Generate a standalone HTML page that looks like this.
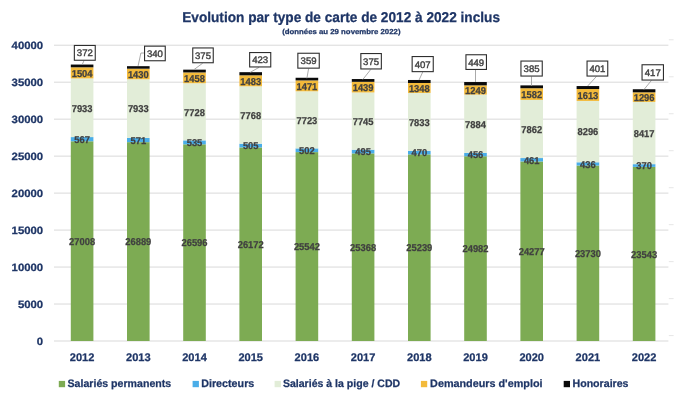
<!DOCTYPE html><html><head><meta charset="utf-8"><title>Evolution par type de carte</title><style>html,body{margin:0;padding:0;background:#fff;}svg{display:block;will-change:transform;}text{font-family:"Liberation Sans",sans-serif;text-rendering:geometricPrecision;font-weight:bold;lengthAdjust:spacingAndGlyphs}.n{fill:#1E3566;stroke:#1E3566;stroke-width:.25px}.g{fill:#404040;stroke:#404040;stroke-width:.25px;text-anchor:middle;font-size:10px}.k{fill:#404040;stroke:#404040;stroke-width:.4px;text-anchor:middle;font-size:9.5px;font-weight:normal}.e{text-anchor:end;font-size:10.6px}.m{text-anchor:middle;font-size:11px}.gl{fill:#D9D9D9}.tk{fill:#E6E6E6}.ld{fill:none;stroke:#A0A0A0;stroke-width:.9px}.bx{fill:#fff;stroke:#2E2E2E;stroke-width:1.1px}</style></head><body>
<svg width="689" height="405" viewBox="0 0 689 405">
<rect x="0" y="0" width="689" height="405" fill="#fff"/>
<rect class="gl" x="54" y="340.5" width="614.4" height="1"/>
<rect class="tk" x="668.8" y="335.1" width="4.8" height="1"/>
<rect class="gl" x="54" y="303.52" width="614.4" height="1"/>
<rect class="tk" x="668.8" y="298.12" width="4.8" height="1"/>
<rect class="gl" x="54" y="266.55" width="614.4" height="1"/>
<rect class="tk" x="668.8" y="261.15" width="4.8" height="1"/>
<rect class="gl" x="54" y="229.57" width="614.4" height="1"/>
<rect class="tk" x="668.8" y="224.17" width="4.8" height="1"/>
<rect class="gl" x="54" y="192.6" width="614.4" height="1"/>
<rect class="tk" x="668.8" y="187.2" width="4.8" height="1"/>
<rect class="gl" x="54" y="155.62" width="614.4" height="1"/>
<rect class="tk" x="668.8" y="150.22" width="4.8" height="1"/>
<rect class="gl" x="54" y="118.65" width="614.4" height="1"/>
<rect class="tk" x="668.8" y="113.25" width="4.8" height="1"/>
<rect class="gl" x="54" y="81.68" width="614.4" height="1"/>
<rect class="tk" x="668.8" y="76.28" width="4.8" height="1"/>
<rect class="gl" x="54" y="44.7" width="614.4" height="1"/>
<rect class="tk" x="668.8" y="39.3" width="4.8" height="1"/>
<text x="182.2" y="22" font-size="14.2" font-weight="bold" fill="#1E3566" stroke="#1E3566" stroke-width="0.25" text-anchor="start" textLength="317.8" lengthAdjust="spacingAndGlyphs">Evolution par type de carte de 2012 à 2022 inclus</text>
<text x="282.2" y="34" font-size="7.2" font-weight="bold" fill="#1E3566" stroke="#1E3566" stroke-width="0.25" text-anchor="start" textLength="118.3" lengthAdjust="spacingAndGlyphs">(données au 29 novembre 2022)</text>
<text class="n e" x="43.2" y="345" textLength="6.32" lengthAdjust="spacingAndGlyphs">0</text>
<text class="n e" x="43.2" y="308" textLength="25.28" lengthAdjust="spacingAndGlyphs">5000</text>
<text class="n e" x="43.2" y="271" textLength="31.6" lengthAdjust="spacingAndGlyphs">10000</text>
<text class="n e" x="43.2" y="234" textLength="31.6" lengthAdjust="spacingAndGlyphs">15000</text>
<text class="n e" x="43.2" y="197" textLength="31.6" lengthAdjust="spacingAndGlyphs">20000</text>
<text class="n e" x="43.2" y="160" textLength="31.6" lengthAdjust="spacingAndGlyphs">25000</text>
<text class="n e" x="43.2" y="123" textLength="31.6" lengthAdjust="spacingAndGlyphs">30000</text>
<text class="n e" x="43.2" y="86" textLength="31.6" lengthAdjust="spacingAndGlyphs">35000</text>
<text class="n e" x="43.2" y="49" textLength="31.6" lengthAdjust="spacingAndGlyphs">40000</text>
<rect x="70.8" y="141.28" width="22.6" height="199.72" fill="#7DAB53"/>
<rect x="70.8" y="137.08" width="22.6" height="4.19" fill="#4AADE8"/>
<rect x="70.8" y="78.42" width="22.6" height="58.66" fill="#E2EDD8"/>
<rect x="70.8" y="67.3" width="22.6" height="11.12" fill="#F3BA3A"/>
<rect x="70.8" y="64.55" width="22.6" height="2.75" fill="#0A0A0A"/>
<text class="g" x="82.1" y="245" textLength="26" lengthAdjust="spacingAndGlyphs">27008</text>
<text class="g" x="82.1" y="143" textLength="15.6" lengthAdjust="spacingAndGlyphs">567</text>
<text class="g" x="82.1" y="112" textLength="20.8" lengthAdjust="spacingAndGlyphs">7933</text>
<text class="g" x="82.1" y="77" textLength="20.8" lengthAdjust="spacingAndGlyphs">1504</text>
<text class="n m" x="82.1" y="361" textLength="24.6" lengthAdjust="spacingAndGlyphs">2012</text>
<polyline class="ld" points="84,60.7 82.2,64.6"/>
<rect class="bx" x="74.35" y="45.45" width="20.9" height="14.8"/>
<text class="k" x="84.8" y="56" textLength="16" lengthAdjust="spacingAndGlyphs">372</text>
<rect x="127" y="142.16" width="22.6" height="198.84" fill="#7DAB53"/>
<rect x="127" y="137.93" width="22.6" height="4.22" fill="#4AADE8"/>
<rect x="127" y="79.27" width="22.6" height="58.66" fill="#E2EDD8"/>
<rect x="127" y="68.69" width="22.6" height="10.57" fill="#F3BA3A"/>
<rect x="127" y="66.18" width="22.6" height="2.51" fill="#0A0A0A"/>
<text class="g" x="138.3" y="245" textLength="26" lengthAdjust="spacingAndGlyphs">26889</text>
<text class="g" x="138.3" y="144" textLength="15.6" lengthAdjust="spacingAndGlyphs">571</text>
<text class="g" x="138.3" y="112" textLength="20.8" lengthAdjust="spacingAndGlyphs">7933</text>
<text class="g" x="138.3" y="78" textLength="20.8" lengthAdjust="spacingAndGlyphs">1430</text>
<text class="n m" x="138.3" y="361" textLength="24.6" lengthAdjust="spacingAndGlyphs">2013</text>
<polyline class="ld" points="138.1,65.9 140.9,53 144,53"/>
<rect class="bx" x="144.55" y="46.15" width="20.7" height="14.6"/>
<text class="k" x="154.9" y="57" textLength="16" lengthAdjust="spacingAndGlyphs">340</text>
<rect x="183.2" y="144.32" width="22.6" height="196.68" fill="#7DAB53"/>
<rect x="183.2" y="140.37" width="22.6" height="3.96" fill="#4AADE8"/>
<rect x="183.2" y="83.22" width="22.6" height="57.15" fill="#E2EDD8"/>
<rect x="183.2" y="72.44" width="22.6" height="10.78" fill="#F3BA3A"/>
<rect x="183.2" y="69.66" width="22.6" height="2.77" fill="#0A0A0A"/>
<text class="g" x="194.5" y="246" textLength="26" lengthAdjust="spacingAndGlyphs">26596</text>
<text class="g" x="194.5" y="146" textLength="15.6" lengthAdjust="spacingAndGlyphs">535</text>
<text class="g" x="194.5" y="116" textLength="20.8" lengthAdjust="spacingAndGlyphs">7728</text>
<text class="g" x="194.5" y="82" textLength="20.8" lengthAdjust="spacingAndGlyphs">1458</text>
<text class="n m" x="194.5" y="361" textLength="24.6" lengthAdjust="spacingAndGlyphs">2014</text>
<polyline class="ld" points="202.7,63.2 194,69.6"/>
<rect class="bx" x="192.75" y="47.95" width="20.5" height="14.8"/>
<text class="k" x="203" y="59" textLength="16" lengthAdjust="spacingAndGlyphs">375</text>
<rect x="239.4" y="147.46" width="22.6" height="193.54" fill="#7DAB53"/>
<rect x="239.4" y="143.72" width="22.6" height="3.73" fill="#4AADE8"/>
<rect x="239.4" y="86.28" width="22.6" height="57.44" fill="#E2EDD8"/>
<rect x="239.4" y="75.31" width="22.6" height="10.97" fill="#F3BA3A"/>
<rect x="239.4" y="72.18" width="22.6" height="3.13" fill="#0A0A0A"/>
<text class="g" x="250.7" y="248" textLength="26" lengthAdjust="spacingAndGlyphs">26172</text>
<text class="g" x="250.7" y="149" textLength="15.6" lengthAdjust="spacingAndGlyphs">505</text>
<text class="g" x="250.7" y="119" textLength="20.8" lengthAdjust="spacingAndGlyphs">7768</text>
<text class="g" x="250.7" y="85" textLength="20.8" lengthAdjust="spacingAndGlyphs">1483</text>
<text class="n m" x="250.7" y="361" textLength="24.6" lengthAdjust="spacingAndGlyphs">2015</text>
<polyline class="ld" points="259,67.4 250.3,72.3"/>
<rect class="bx" x="249.65" y="52.55" width="21.1" height="14.4"/>
<text class="k" x="260.2" y="63" textLength="16" lengthAdjust="spacingAndGlyphs">423</text>
<rect x="295.6" y="152.12" width="22.6" height="188.88" fill="#7DAB53"/>
<rect x="295.6" y="148.4" width="22.6" height="3.71" fill="#4AADE8"/>
<rect x="295.6" y="91.29" width="22.6" height="57.11" fill="#E2EDD8"/>
<rect x="295.6" y="80.41" width="22.6" height="10.88" fill="#F3BA3A"/>
<rect x="295.6" y="77.76" width="22.6" height="2.65" fill="#0A0A0A"/>
<text class="g" x="306.9" y="250" textLength="26" lengthAdjust="spacingAndGlyphs">25542</text>
<text class="g" x="306.9" y="154" textLength="15.6" lengthAdjust="spacingAndGlyphs">502</text>
<text class="g" x="306.9" y="124" textLength="20.8" lengthAdjust="spacingAndGlyphs">7723</text>
<text class="g" x="306.9" y="90" textLength="20.8" lengthAdjust="spacingAndGlyphs">1471</text>
<text class="n m" x="306.9" y="361" textLength="24.6" lengthAdjust="spacingAndGlyphs">2016</text>
<polyline class="ld" points="308.6,68.6 306.9,78.3"/>
<rect class="bx" x="297.85" y="53.25" width="21.4" height="14.9"/>
<text class="k" x="308.55" y="64" textLength="16" lengthAdjust="spacingAndGlyphs">359</text>
<rect x="351.8" y="153.4" width="22.6" height="187.6" fill="#7DAB53"/>
<rect x="351.8" y="149.74" width="22.6" height="3.66" fill="#4AADE8"/>
<rect x="351.8" y="92.47" width="22.6" height="57.27" fill="#E2EDD8"/>
<rect x="351.8" y="81.83" width="22.6" height="10.64" fill="#F3BA3A"/>
<rect x="351.8" y="79.05" width="22.6" height="2.77" fill="#0A0A0A"/>
<text class="g" x="363.1" y="251" textLength="26" lengthAdjust="spacingAndGlyphs">25368</text>
<text class="g" x="363.1" y="155" textLength="15.6" lengthAdjust="spacingAndGlyphs">495</text>
<text class="g" x="363.1" y="125" textLength="20.8" lengthAdjust="spacingAndGlyphs">7745</text>
<text class="g" x="363.1" y="91" textLength="20.8" lengthAdjust="spacingAndGlyphs">1439</text>
<text class="n m" x="363.1" y="361" textLength="24.6" lengthAdjust="spacingAndGlyphs">2017</text>
<polyline class="ld" points="370.8,69.4 362.8,79.5"/>
<rect class="bx" x="360.85" y="53.55" width="20.5" height="15.4"/>
<text class="k" x="371.1" y="65" textLength="16" lengthAdjust="spacingAndGlyphs">375</text>
<rect x="408" y="154.36" width="22.6" height="186.64" fill="#7DAB53"/>
<rect x="408" y="150.88" width="22.6" height="3.48" fill="#4AADE8"/>
<rect x="408" y="92.96" width="22.6" height="57.93" fill="#E2EDD8"/>
<rect x="408" y="82.99" width="22.6" height="9.97" fill="#F3BA3A"/>
<rect x="408" y="79.98" width="22.6" height="3.01" fill="#0A0A0A"/>
<text class="g" x="419.3" y="251" textLength="26" lengthAdjust="spacingAndGlyphs">25239</text>
<text class="g" x="419.3" y="156" textLength="15.6" lengthAdjust="spacingAndGlyphs">470</text>
<text class="g" x="419.3" y="126" textLength="20.8" lengthAdjust="spacingAndGlyphs">7833</text>
<text class="g" x="419.3" y="92" textLength="20.8" lengthAdjust="spacingAndGlyphs">1348</text>
<text class="n m" x="419.3" y="361" textLength="24.6" lengthAdjust="spacingAndGlyphs">2018</text>
<polyline class="ld" points="422.7,72.1 419,80.1"/>
<rect class="bx" x="412.15" y="56.55" width="21.1" height="15.1"/>
<text class="k" x="422.7" y="68" textLength="16" lengthAdjust="spacingAndGlyphs">407</text>
<rect x="464.2" y="156.26" width="22.6" height="184.74" fill="#7DAB53"/>
<rect x="464.2" y="152.89" width="22.6" height="3.37" fill="#4AADE8"/>
<rect x="464.2" y="94.58" width="22.6" height="58.3" fill="#E2EDD8"/>
<rect x="464.2" y="85.35" width="22.6" height="9.24" fill="#F3BA3A"/>
<rect x="464.2" y="82.03" width="22.6" height="3.32" fill="#0A0A0A"/>
<text class="g" x="475.5" y="252" textLength="26" lengthAdjust="spacingAndGlyphs">24982</text>
<text class="g" x="475.5" y="158" textLength="15.6" lengthAdjust="spacingAndGlyphs">456</text>
<text class="g" x="475.5" y="128" textLength="20.8" lengthAdjust="spacingAndGlyphs">7884</text>
<text class="g" x="475.5" y="94" textLength="20.8" lengthAdjust="spacingAndGlyphs">1249</text>
<text class="n m" x="475.5" y="361" textLength="24.6" lengthAdjust="spacingAndGlyphs">2019</text>
<polyline class="ld" points="475.5,69.9 475.5,82"/>
<rect class="bx" x="465.95" y="54.75" width="20.5" height="14.7"/>
<text class="k" x="476.2" y="66" textLength="16" lengthAdjust="spacingAndGlyphs">449</text>
<rect x="520.4" y="161.47" width="22.6" height="179.53" fill="#7DAB53"/>
<rect x="520.4" y="158.06" width="22.6" height="3.41" fill="#4AADE8"/>
<rect x="520.4" y="99.92" width="22.6" height="58.14" fill="#E2EDD8"/>
<rect x="520.4" y="88.22" width="22.6" height="11.7" fill="#F3BA3A"/>
<rect x="520.4" y="85.38" width="22.6" height="2.85" fill="#0A0A0A"/>
<text class="g" x="531.7" y="255" textLength="26" lengthAdjust="spacingAndGlyphs">24277</text>
<text class="g" x="531.7" y="164" textLength="15.6" lengthAdjust="spacingAndGlyphs">461</text>
<text class="g" x="531.7" y="133" textLength="20.8" lengthAdjust="spacingAndGlyphs">7862</text>
<text class="g" x="531.7" y="98" textLength="20.8" lengthAdjust="spacingAndGlyphs">1582</text>
<text class="n m" x="531.7" y="361" textLength="24.6" lengthAdjust="spacingAndGlyphs">2020</text>
<polyline class="ld" points="531.5,76.5 531.5,85.8"/>
<rect class="bx" x="520.95" y="61.05" width="21.3" height="15"/>
<text class="k" x="531.6" y="72" textLength="16" lengthAdjust="spacingAndGlyphs">385</text>
<rect x="576.6" y="165.52" width="22.6" height="175.48" fill="#7DAB53"/>
<rect x="576.6" y="162.29" width="22.6" height="3.22" fill="#4AADE8"/>
<rect x="576.6" y="100.94" width="22.6" height="61.35" fill="#E2EDD8"/>
<rect x="576.6" y="89.02" width="22.6" height="11.93" fill="#F3BA3A"/>
<rect x="576.6" y="86.05" width="22.6" height="2.97" fill="#0A0A0A"/>
<text class="g" x="587.9" y="257" textLength="26" lengthAdjust="spacingAndGlyphs">23730</text>
<text class="g" x="587.9" y="168" textLength="15.6" lengthAdjust="spacingAndGlyphs">436</text>
<text class="g" x="587.9" y="135" textLength="20.8" lengthAdjust="spacingAndGlyphs">8296</text>
<text class="g" x="587.9" y="99" textLength="20.8" lengthAdjust="spacingAndGlyphs">1613</text>
<text class="n m" x="587.9" y="361" textLength="24.6" lengthAdjust="spacingAndGlyphs">2021</text>
<polyline class="ld" points="596.4,76.5 587.7,86"/>
<rect class="bx" x="587.05" y="61.05" width="20.7" height="15"/>
<text class="k" x="597.4" y="72" textLength="16" lengthAdjust="spacingAndGlyphs">401</text>
<rect x="632.8" y="166.9" width="22.6" height="174.1" fill="#7DAB53"/>
<rect x="632.8" y="164.16" width="22.6" height="2.74" fill="#4AADE8"/>
<rect x="632.8" y="101.92" width="22.6" height="62.24" fill="#E2EDD8"/>
<rect x="632.8" y="92.34" width="22.6" height="9.58" fill="#F3BA3A"/>
<rect x="632.8" y="89.25" width="22.6" height="3.08" fill="#0A0A0A"/>
<text class="g" x="644.1" y="258" textLength="26" lengthAdjust="spacingAndGlyphs">23543</text>
<text class="g" x="644.1" y="169" textLength="15.6" lengthAdjust="spacingAndGlyphs">370</text>
<text class="g" x="644.1" y="137" textLength="20.8" lengthAdjust="spacingAndGlyphs">8417</text>
<text class="g" x="644.1" y="101" textLength="20.8" lengthAdjust="spacingAndGlyphs">1296</text>
<text class="n m" x="644.1" y="361" textLength="24.6" lengthAdjust="spacingAndGlyphs">2022</text>
<polyline class="ld" points="651.4,80.5 644,89.5"/>
<rect class="bx" x="642.05" y="64.75" width="21.4" height="15.3"/>
<text class="k" x="652.75" y="76" textLength="16" lengthAdjust="spacingAndGlyphs">417</text>
<rect x="58.80" y="380.9" width="6.3" height="6.3" fill="#7DAB53"/>
<text x="67.5" y="387" font-size="10.8" font-weight="bold" fill="#1E3566" stroke="#1E3566" stroke-width="0.25" text-anchor="start" textLength="103.7" lengthAdjust="spacingAndGlyphs">Salariés permanents</text>
<rect x="192.60" y="380.9" width="6.3" height="6.3" fill="#4AADE8"/>
<text x="201.2" y="387" font-size="10.8" font-weight="bold" fill="#1E3566" stroke="#1E3566" stroke-width="0.25" text-anchor="start" textLength="53.1" lengthAdjust="spacingAndGlyphs">Directeurs</text>
<rect x="274.60" y="380.9" width="6.3" height="6.3" fill="#E2EDD8"/>
<text x="282.9" y="387" font-size="10.8" font-weight="bold" fill="#1E3566" stroke="#1E3566" stroke-width="0.25" text-anchor="start" textLength="117.3" lengthAdjust="spacingAndGlyphs">Salariés à la pige / CDD</text>
<rect x="420.90" y="380.9" width="6.3" height="6.3" fill="#F3BA3A"/>
<text x="430.1" y="387" font-size="10.8" font-weight="bold" fill="#1E3566" stroke="#1E3566" stroke-width="0.25" text-anchor="start" textLength="112.4" lengthAdjust="spacingAndGlyphs">Demandeurs d&#39;emploi</text>
<rect x="563.70" y="380.9" width="6.3" height="6.3" fill="#0A0A0A"/>
<text x="572.5" y="387" font-size="10.8" font-weight="bold" fill="#1E3566" stroke="#1E3566" stroke-width="0.25" text-anchor="start" textLength="56" lengthAdjust="spacingAndGlyphs">Honoraires</text>
</svg></body></html>
